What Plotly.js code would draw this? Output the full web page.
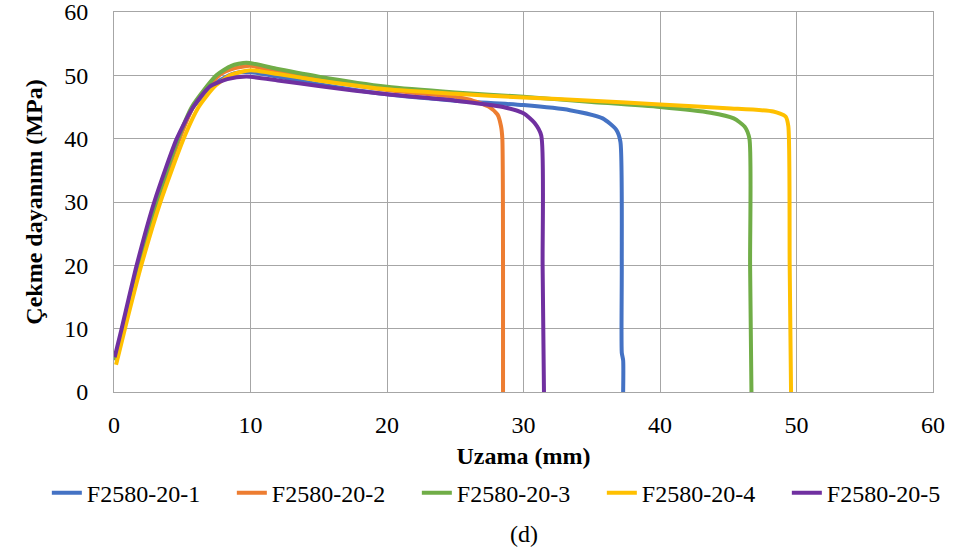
<!DOCTYPE html>
<html>
<head>
<meta charset="utf-8">
<script src="https://cdn.plot.ly/plotly-3.0.1.min.js"></script>
<style>html,body{margin:0;padding:0;background:#fff;}#chart{width:974px;height:556px;}</style>
</head>
<body>
<div id="chart"></div>
<script>
var seriesNames = ["F2580-20-1", "F2580-20-2", "F2580-20-3", "F2580-20-4", "F2580-20-5"];
var seriesColors = ["#4472C4", "#ED7D31", "#70AD47", "#FFC000", "#7030A0"];

var x1 = [0.1, 0.68, 1.8, 3.15, 4.75, 5.8, 7.6, 8.8, 10, 12, 15, 20, 25, 30, 33.4, 35.8, 36.8, 37.1, 37.2, 37.2, 37.3, 37.3];
var y1 = [5, 10, 20, 30, 40, 45, 49, 50.3, 50.5, 49.8, 48.6, 47.0, 46.0, 45.3, 44.5, 43.2, 41.4, 39.5, 20, 6.2, 5, 0];

var x2 = [0.1, 0.7, 1.85, 3.2, 4.8, 5.8, 7.7, 8.8, 10, 12, 15, 20, 25, 26, 27.5, 28.1, 28.35, 28.45, 28.5, 28.5];
var y2 = [5, 10, 20, 30, 40, 45, 50, 51.1, 51.5, 50.5, 49.3, 47.7, 46.6, 46.2, 45.0, 43.8, 42, 40, 20, 0];

var x3 = [0.1, 0.65, 1.8, 3.1, 4.7, 5.7, 7.5, 8.6, 9.7, 12, 15, 20, 25, 30, 35, 40, 43.7, 45.4, 46.2, 46.55, 46.6, 46.7];
var y3 = [5, 10, 20, 30, 40, 45, 50, 51.5, 52.0, 51.0, 49.8, 48.2, 47.3, 46.6, 45.8, 45.0, 44.1, 43.2, 41.9, 40, 20, 0];

var x4 = [0.15, 0.8, 2.0, 3.4, 5.1, 6.2, 7.4, 8.6, 10, 12, 15, 20, 25, 30, 35, 40, 44.9, 48.3, 49.2, 49.4, 49.5, 49.6];
var y4 = [4.3, 10, 20, 30, 40, 45, 48.3, 50.1, 50.8, 50.2, 49.2, 47.8, 47.1, 46.5, 46.0, 45.4, 44.8, 44.3, 43.5, 42, 20, 0];

var x5 = [0.05, 0.56, 1.66, 2.95, 4.6, 5.8, 7.0, 8.3, 9.7, 12, 15, 20, 25, 28.5, 30, 30.8, 31.3, 31.4, 31.5];
var y5 = [5.5, 10, 20, 30, 40, 45, 48.2, 49.4, 49.8, 49.2, 48.3, 47.0, 46.0, 45.0, 44.0, 42.5, 40.5, 20, 0];

var xs = [x1, x2, x3, x4, x5];
var ys = [y1, y2, y3, y4, y5];

var xTicks = [0, 10, 20, 30, 40, 50, 60];
var yTicks = [0, 10, 20, 30, 40, 50, 60];

var traces = seriesNames.map(function (n, i) {
  return {
    x: xs[i], y: ys[i], name: n, type: "scatter", mode: "lines",
    line: {color: seriesColors[i], width: 4, shape: "spline", smoothing: 0.6}
  };
});

var serif = "Liberation Serif, Times New Roman, serif";
var gridCol = "#A6A6A6";

var layout = {
  width: 974, height: 556,
  margin: {l: 114, r: 41, t: 12, b: 164},
  paper_bgcolor: "#fff", plot_bgcolor: "#fff",
  font: {family: serif, size: 24, color: "#000"},
  showlegend: true,
  xaxis: {
    range: [0, 60], tickvals: xTicks, ticktext: xTicks.map(String),
    showgrid: true, gridcolor: gridCol, gridwidth: 1,
    showline: true, linecolor: gridCol, linewidth: 1, mirror: true,
    zeroline: false, ticks: "", ticklabelstandoff: 11, ticklabeloverflow: "allow",
    tickfont: {family: serif, size: 24, color: "#000"},
    title: {text: "<b>Uzama (mm)</b>", font: {family: serif, size: 24, color: "#000"}, standoff: 10}
  },
  yaxis: {
    range: [0, 60], tickvals: yTicks, ticktext: yTicks.map(String),
    showgrid: true, gridcolor: gridCol, gridwidth: 1,
    showline: true, linecolor: gridCol, linewidth: 1, mirror: true,
    zeroline: false, ticks: "", ticklabelstandoff: 20, ticklabeloverflow: "allow",
    tickfont: {family: serif, size: 24, color: "#000"},
    title: {text: "<b>Çekme dayanımı (MPa)</b>", font: {family: serif, size: 24, color: "#000"}, standoff: 14}
  },
  legend: {
    orientation: "h", x: -0.082, xanchor: "left", y: -0.207, yanchor: "top",
    font: {family: serif, size: 24, color: "#000"},
    entrywidth: 140, itemwidth: 30, tracegroupgap: 0
  },
  annotations: [{
    text: "(d)", xref: "paper", yref: "paper", x: 0.5, xanchor: "center",
    y: -0.335, yanchor: "top", showarrow: false,
    font: {family: serif, size: 24, color: "#000"}
  }]
};

Plotly.newPlot("chart", traces, layout, {displayModeBar: false, staticPlot: true});
</script>
</body>
</html>
